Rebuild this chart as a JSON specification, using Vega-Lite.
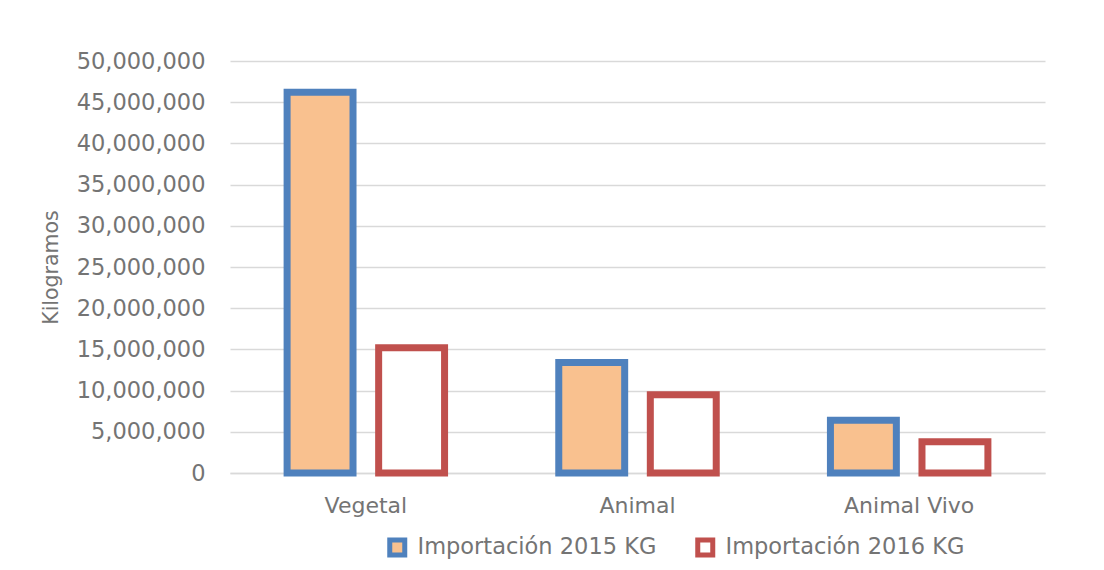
{
  "$schema": "https://vega.github.io/schema/vega-lite/v6.json",
  "autosize": {"type": "none"},
  "width": 815,
  "height": 412,
  "padding": {"left": 230, "top": 61, "right": 59, "bottom": 97},
  "background": "white",
  "data": {
    "values": [
      {"categoria": "Vegetal", "serie": "Importación 2015 KG", "kg": 46200000},
      {"categoria": "Vegetal", "serie": "Importación 2016 KG", "kg": 15200000},
      {"categoria": "Animal", "serie": "Importación 2015 KG", "kg": 13400000},
      {"categoria": "Animal", "serie": "Importación 2016 KG", "kg": 9500000},
      {"categoria": "Animal Vivo", "serie": "Importación 2015 KG", "kg": 6400000},
      {"categoria": "Animal Vivo", "serie": "Importación 2016 KG", "kg": 3800000}
    ]
  },
  "mark": {"type": "bar", "strokeWidth": 7},
  "encoding": {
    "x": {
      "field": "categoria",
      "type": "nominal",
      "sort": ["Vegetal", "Animal", "Animal Vivo"],
      "scale": {"paddingInner": 0.326, "paddingOuter": 0.163},
      "axis": {
        "title": null,
        "labelAngle": 0,
        "labelFont": "DejaVu Sans",
        "labelFontSize": 22,
        "labelColor": "#747474",
        "labelPadding": 22,
        "ticks": false,
        "domain": true,
        "domainColor": "#d9d9d9",
        "domainWidth": 1.5
      }
    },
    "xOffset": {
      "field": "serie",
      "type": "nominal",
      "scale": {"paddingInner": 0.28, "paddingOuter": 0.14}
    },
    "y": {
      "field": "kg",
      "type": "quantitative",
      "scale": {"domain": [0, 50000000]},
      "axis": {
        "title": "Kilogramos",
        "titleFont": "DejaVu Sans",
        "titleFontSize": 20.5,
        "titleFontWeight": "normal",
        "titleColor": "#747474",
        "titlePadding": 15,
        "values": [0, 5000000, 10000000, 15000000, 20000000, 25000000, 30000000, 35000000, 40000000, 45000000, 50000000],
        "format": ",d",
        "labelFont": "DejaVu Sans",
        "labelFontSize": 22.5,
        "labelColor": "#747474",
        "labelPadding": 25,
        "ticks": false,
        "domain": false,
        "grid": true,
        "gridColor": "#d9d9d9",
        "gridWidth": 1.5
      }
    },
    "fill": {
      "field": "serie",
      "type": "nominal",
      "scale": {"domain": ["Importación 2015 KG", "Importación 2016 KG"], "range": ["#F9C18F", "#FFFFFF"]},
      "legend": {
        "title": null,
        "orient": "none",
        "direction": "horizontal",
        "legendX": 156,
        "legendY": 475,
        "symbolType": "square",
        "symbolSize": 225,
        "symbolStrokeWidth": 5,
        "labelFont": "DejaVu Sans",
        "labelFontSize": 22.5,
        "labelColor": "#747474",
        "labelOffset": 9,
        "columnPadding": 30,
        "labelLimit": 400
      }
    },
    "stroke": {
      "field": "serie",
      "type": "nominal",
      "scale": {"domain": ["Importación 2015 KG", "Importación 2016 KG"], "range": ["#4F81BD", "#C0504D"]},
      "legend": {
        "title": null,
        "orient": "none",
        "direction": "horizontal",
        "legendX": 156,
        "legendY": 475,
        "symbolType": "square",
        "symbolSize": 225,
        "symbolStrokeWidth": 5,
        "labelFont": "DejaVu Sans",
        "labelFontSize": 22.5,
        "labelColor": "#747474",
        "labelOffset": 9,
        "columnPadding": 30,
        "labelLimit": 400
      }
    }
  },
  "config": {
    "view": {"stroke": null}
  }
}
